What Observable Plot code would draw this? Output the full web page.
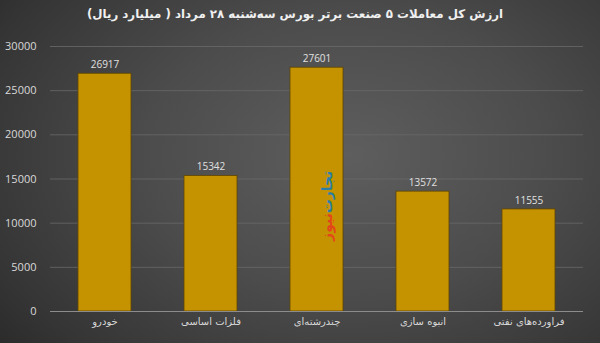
<!DOCTYPE html>
<html>
<head>
<meta charset="utf-8">
<script src="https://cdn.jsdelivr.net/npm/d3@7"></script>
<script src="https://cdn.jsdelivr.net/npm/@observablehq/plot@0.6"></script>
<style>
  html, body { margin: 0; padding: 0; }
  #wrap {
    width: 600px; height: 343px; position: relative; overflow: hidden;
    background: radial-gradient(ellipse 75% 90% at 58% 45%, #5e5e5e 0%, #4c4c4c 45%, #353535 85%, #2a2a2a 100%);
  }
  #title {
    height: 32px; line-height: 29px; text-align: center; direction: rtl; padding-right: 10px; box-sizing: border-box;
    font-family: "DejaVu Sans", sans-serif; font-weight: bold; font-size: 11.8px; color: #f0f0f0;
  }
</style>
</head>
<body>
<div id="wrap">
  <div id="title">ارزش کل معاملات ۵ صنعت برتر بورس سه‌شنبه ۲۸ مرداد ( میلیارد ریال)</div>
  <div id="chart"></div>
</div>
<script>
const categories = ["خودرو", "فلزات اساسی", "چندرشته‌ای", "انبوه سازی", "فراورده‌های نفتی"];
const values = [26917, 15342, 27601, 13572, 11555];
const yTicks = [0, 5000, 10000, 15000, 20000, 25000, 30000];

const data = categories.map((c, i) => ({category: c, value: values[i]}));

const chart = Plot.plot({
  width: 600,
  height: 311,
  marginTop: 14,
  marginBottom: 32,
  marginLeft: 50,
  marginRight: 17,
  style: {background: "transparent", color: "#d9d9d9"},
  x: {domain: categories, paddingInner: 0.5, paddingOuter: 0.25, label: null, tickSize: 0, tickPadding: 6},
  y: {domain: [0, 30000], ticks: yTicks, label: null, tickSize: 0, tickPadding: 14, tickFormat: d => String(d)},
  marks: [
    Plot.gridY(yTicks.filter(t => t > 0), {stroke: "#6a6a6a", strokeOpacity: 1, strokeWidth: 0.8}),
    Plot.barY(data, {x: "category", y: "value", fill: "#c69300", stroke: "#5e4500", strokeWidth: 0.8}),
    Plot.ruleY([0], {stroke: "#8c8c8c", strokeWidth: 1}),
    Plot.text(data, {x: "category", y: "value", text: d => String(d.value), dy: -9, fill: "#e0e0e0", fontSize: 10, fontFamily: "Open Sans, sans-serif"}),
    Plot.axisY({ticks: yTicks, tickSize: 0, tickPadding: 14, fontSize: 11, fontFamily: "Open Sans, sans-serif", tickFormat: d => String(d)}),
    Plot.axisX({tickSize: 0, tickPadding: 6, fontSize: 10, fontFamily: "DejaVu Sans, sans-serif"})
  ]
});
document.getElementById("chart").appendChild(chart);

// watermark
const svg = d3.select(chart);
const wmParts = [
  {word: "تجارت", color: "#2b7fa6", y: 160},
  {word: "نیوز", color: "#e4461b", y: 195}
];
for (const p of wmParts) {
  svg.append("text")
    .attr("transform", `translate(327,${p.y}) rotate(-90)`)
    .attr("text-anchor", "middle")
    .attr("dominant-baseline", "central")
    .attr("font-family", "DejaVu Sans, sans-serif")
    .attr("font-weight", "bold")
    .attr("font-size", 14)
    .attr("fill", p.color)
    .text(p.word);
}
</script>
</body>
</html>
